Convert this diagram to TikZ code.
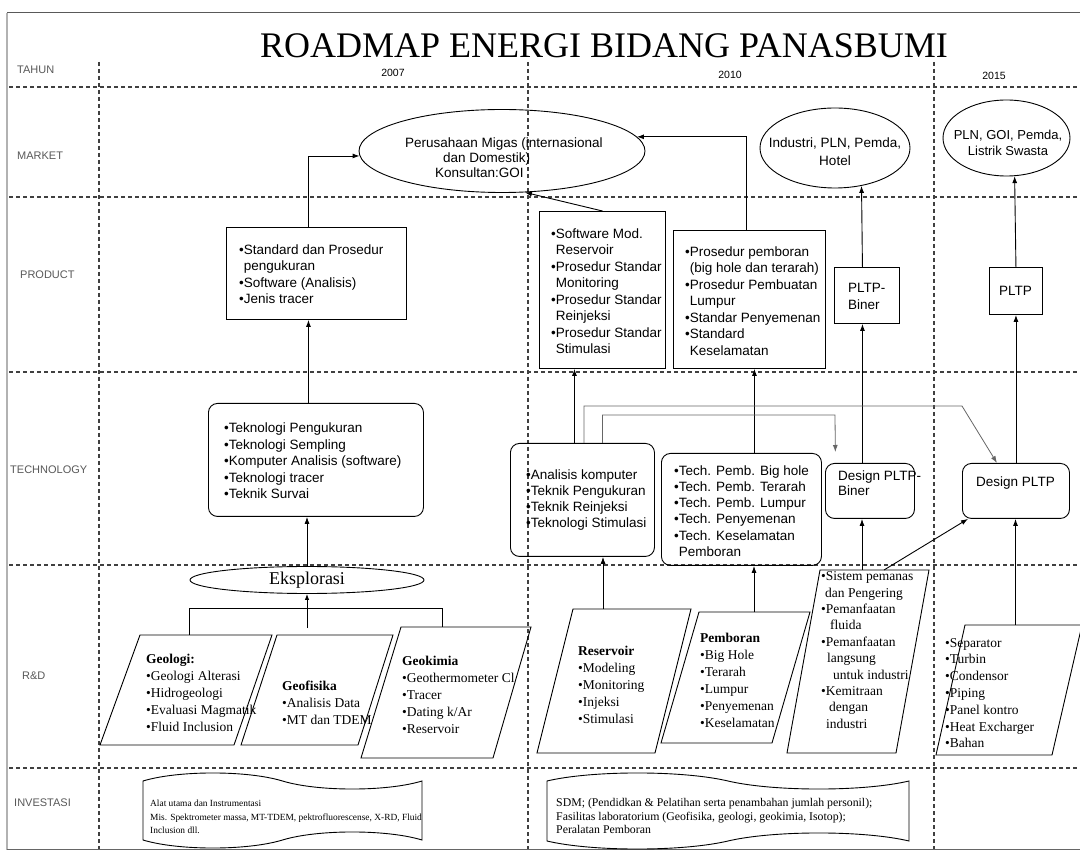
\documentclass[tikz,border=0pt]{standalone}
\usepackage{fontspec}
\setmainfont{Liberation Serif}
\setsansfont{Liberation Sans}
\usetikzlibrary{arrows.meta,shapes.geometric}
\begin{document}
\begin{tikzpicture}[x=1pt,y=-1pt,
  grid/.style={dash pattern=on 4pt off 3pt,line width=1.1pt,black!75},
  box/.style={draw,line width=0.9pt,inner sep=0pt,anchor=north west},
  rbox/.style={box,rounded corners=9pt},
  stx/.style={font=\sffamily\fontsize{13.5}{16.5}\selectfont,align=left,inner sep=0pt,anchor=west},
  rtx/.style={font=\rmfamily\fontsize{13.5}{17}\selectfont,align=left,inner sep=0pt,anchor=west},
  ell/.style={draw,ellipse,line width=0.9pt,inner sep=0pt},
  etx/.style={font=\sffamily\fontsize{13.5}{17}\selectfont,align=center,inner sep=0pt},
  lab/.style={font=\sffamily\fontsize{11}{13}\selectfont,text=black!65,anchor=west,inner sep=0pt},
  yr/.style={font=\sffamily\fontsize{10.5}{12}\selectfont,inner sep=0pt},
  arr/.style={line width=0.9pt,-{Latex[length=7pt,width=5pt]}},
  garr/.style={line width=0.8pt,black!60,-{Latex[length=7pt,width=5pt]}},
  conn/.style={line width=0.9pt},
  pgram/.style={draw,line width=0.9pt},
  doc/.style={draw,line width=0.9pt},
]
\useasboundingbox (0,0) rectangle (1080,858);
\fill[white] (0,0) rectangle (1080,858);

% frame
\draw[black!65,line width=1pt] (7,13) -- (1080,13);
\draw[black!30,line width=1.5pt] (7,13) -- (7,850);
\draw[black!60,line width=1pt] (7,849) -- (1080,849);

% grid
\foreach \yy in {87,197,372,565,768} \draw[grid] (9,\yy) -- (1080,\yy);
\foreach \xx in {99,528,934} \draw[grid] (\xx,62) -- (\xx,849);

% title
\node[font=\rmfamily\fontsize{36}{40}\selectfont,anchor=base,inner sep=0pt] (title) at (604,58) {ROADMAP ENERGI BIDANG PANASBUMI};

% row labels
\node[lab] (lTahun) at (17,70) {TAHUN};
\node[lab] (lMarket) at (17,156) {MARKET};
\node[lab] (lProduct) at (20,275) {PRODUCT};
\node[lab] (lTech) at (10,470) {TECHNOLOGY};
\node[lab] (lRD) at (22,676) {R\&D};
\node[lab] (lInv) at (14,803) {INVESTASI};

% years
\node[yr] (y2007) at (393,73) {2007};
\node[yr] (y2010) at (730,75) {2010};
\node[yr] (y2015) at (994,76) {2015};

% market
\node[ell,minimum width=286pt,minimum height=83pt] (E1) at (502,151) {};
\node[stx,font=\sffamily\fontsize{13.5}{15}\selectfont] (E1t) at (405,158) {Perusahaan Migas (internasional\\\hspace*{38pt}dan Domestik)\\\hspace*{30pt}Konsultan:GOI};
\node[ell,minimum width=150pt,minimum height=80pt] (E2) at (835,148) {};
\node[etx,font=\sffamily\fontsize{13.5}{18}\selectfont] (E2t) at (835,152) {Industri, PLN, Pemda,\\Hotel};
\node[ell,minimum width=127pt,minimum height=76pt] (E3) at (1006.5,138) {};
\node[etx,font=\sffamily\fontsize{13}{16}\selectfont] (E3t) at (1008,143) {PLN, GOI, Pemda,\\Listrik Swasta};

% product
\node[box,minimum width=180pt,minimum height=92pt] (P1) at (226,227) {};
\node[stx] (P1t) at (239,274) {•Standard dan Prosedur\\\phantom{•}pengukuran\\•Software (Analisis)\\•Jenis tracer};
\node[box,minimum width=126pt,minimum height=157pt] (P2) at (539,211) {};
\node[stx] (P2t) at (551,291) {•Software Mod.\\\phantom{•}Reservoir\\•Prosedur Standar\\\phantom{•}Monitoring\\•Prosedur Standar\\\phantom{•}Reinjeksi\\•Prosedur Standar\\\phantom{•}Stimulasi};
\node[box,minimum width=152pt,minimum height=138pt] (P3) at (673,230) {};
\node[stx] (P3t) at (685,301) {•Prosedur pemboran\\\phantom{•}(big hole dan terarah)\\•Prosedur Pembuatan\\\phantom{•}Lumpur\\•Standar Penyemenan\\•Standard\\\phantom{•}Keselamatan};
\node[box,minimum width=65pt,minimum height=56pt] (P4) at (834,267) {};
\node[stx,font=\sffamily\fontsize{13.5}{17}\selectfont] (P4t) at (848,296) {PLTP-\\Biner};
\node[box,minimum width=53pt,minimum height=47pt] (P5) at (989,267) {};
\node[stx,anchor=center] (P5t) at (1015.5,291) {PLTP};

% technology
\node[rbox,minimum width=215pt,minimum height=113pt] (T1) at (208,403) {};
\node[stx] (T1t) at (224,461) {•Teknologi Pengukuran\\•Teknologi Sempling\\•Komputer Analisis (software)\\•Teknologi tracer\\•Teknik Survai};
\node[rbox,minimum width=144pt,minimum height=113pt] (T2) at (510,443) {};
\node[stx,font=\sffamily\fontsize{13.5}{16}\selectfont] (T2t) at (526,500) {•Analisis komputer\\•Teknik Pengukuran\\•Teknik Reinjeksi\\•Teknologi Stimulasi};
\node[rbox,minimum width=160pt,minimum height=112pt] (T3) at (661,453) {};
\node[stx,font=\sffamily\fontsize{13.5}{16.3}\selectfont] (T3t) at (674,511) {•Tech. Pemb. Big hole\\•Tech. Pemb. Terarah\\•Tech. Pemb. Lumpur\\•Tech. Penyemenan\\•Tech. Keselamatan\\\phantom{•}Pemboran};
\node[rbox,minimum width=89pt,minimum height=55pt] (T4) at (825,463) {};
\node[stx,font=\sffamily\fontsize{13.5}{15}\selectfont] (T4t) at (838,483) {Design PLTP-\\Biner};
\node[rbox,minimum width=107pt,minimum height=55pt] (T5) at (962,463) {};
\node[stx,anchor=center] (T5t) at (1015.5,483) {Design PLTP};

% R&D
\node[ell,minimum width=234pt,minimum height=27pt,font=\rmfamily\fontsize{18}{20}\selectfont] (Ek) at (307,580) {Eksplorasi};

\draw[pgram] (140,635) -- (272,635) -- (234,745) -- (100,745) -- cycle;
\node[rtx] (Geo) at (146,693) {\textbf{Geologi:}\\•Geologi Alterasi\\•Hidrogeologi\\•Evaluasi Magmatik\\•Fluid Inclusion};
\draw[pgram] (277,635) -- (393,635) -- (358,745) -- (241,745) -- cycle;
\node[rtx] (Gf) at (282,703) {\textbf{Geofisika}\\•Analisis Data\\•MT dan TDEM};
\draw[pgram] (401,627) -- (531,627) -- (493,758) -- (361,758) -- cycle;
\node[rtx] (Gk) at (402,695) {\textbf{Geokimia}\\•Geothermometer Cl\\•Tracer\\•Dating k/Ar\\•Reservoir};

\draw[pgram] (573,609) -- (691,609) -- (655,753) -- (537,753) -- cycle;
\node[rtx] (Res) at (578,685) {\textbf{Reservoir}\\•Modeling\\•Monitoring\\•Injeksi\\•Stimulasi};
\draw[pgram] (699,612) -- (810,612) -- (772,743) -- (661,743) -- cycle;
\node[rtx] (Pem) at (700,680) {\textbf{Pemboran}\\•Big Hole\\•Terarah\\•Lumpur\\•Penyemenan\\•Keselamatan};
\draw[pgram] (820,570) -- (929,570) -- (896,753) -- (787,753) -- cycle;
\node[rtx,font=\rmfamily\fontsize{13.5}{16.4}\selectfont] (Sis) at (821,650) {•Sistem pemanas\\\hspace*{4pt}dan Pengering\\•Pemanfaatan\\\hspace*{9pt}fluida\\•Pemanfaatan\\\hspace*{6pt}langsung\\\hspace*{12pt}untuk industri\\•Kemitraan\\\hspace*{8pt}dengan\\\hspace*{5pt}industri};
\draw[pgram] (965,625) -- (1082,625) -- (1052,755) -- (936,755) -- cycle;
\node[rtx,font=\rmfamily\fontsize{13.5}{16.8}\selectfont] (Komp) at (945,693) {•Separator\\•Turbin\\•Condensor\\•Piping\\•Panel kontro\\•Heat Excharger\\•Bahan};

% investasi
\draw[doc] (143,781) .. controls (178,770.3) and (247.5,770.3) .. (282.5,781)
  .. controls (317.5,791.7) and (387,791.7) .. (422,781) -- (422,840)
  .. controls (387,829.3) and (317.5,829.3) .. (282.5,840)
  .. controls (247.5,850.7) and (178,850.7) .. (143,840) -- cycle;
\node[rtx,font=\rmfamily\fontsize{9.4}{13.3}\selectfont] (Inv1) at (150,817) {Alat utama dan Instrumentasi\\Mis. Spektrometer massa, MT-TDEM, pektrofluorescense, X-RD, Fluid\\Inclusion dll.};
\draw[doc] (547,781) .. controls (592,770.3) and (682.5,770.3) .. (728,781)
  .. controls (773.5,791.7) and (864,791.7) .. (909,781) -- (909,841)
  .. controls (864,830.3) and (773.5,830.3) .. (728,841)
  .. controls (682.5,851.7) and (592,851.7) .. (547,841) -- cycle;
\node[rtx,font=\rmfamily\fontsize{11.8}{13.5}\selectfont] (Inv2) at (556,816) {SDM; (Pendidkan \& Pelatihan serta penambahan jumlah personil);\\Fasilitas laboratorium (Geofisika, geologi, geokimia, Isotop);\\Peralatan Pemboran};

% connector coordinates
\coordinate (geoT) at (189,635);
\coordinate (gfT) at (307,628);
\coordinate (gkT) at (442,627);
\coordinate (brk) at (307,608);
\coordinate (resT) at (603,609);
\coordinate (pemT) at (754,612);
\coordinate (sisT) at (862,570);
\coordinate (sisT2) at (884,570);
\coordinate (kompT) at (1015.5,625);
\coordinate (c1) at (962,406);
\coordinate (c2) at (835,415);

% connectors: product -> market
\draw[arr] ([xshift=-8pt]P1.north) |- (E1.182.4);
\draw[arr] (P2.north) -- (E1.299.3);
\draw[arr] ([xshift=-3.5pt]P3.north) |- (E1.6.42);
\draw[arr] ([xshift=-4.5pt]P4.north) -- (E2.305.9);
\draw[arr] (P5.north) -- (E3.282.7);

% technology -> product
\draw[arr] ([xshift=-7.5pt]T1.north) -- ([xshift=-7.5pt]T1.north |- P1.south);
\draw[arr] ([xshift=-8pt]T2.north) -- ([xshift=-8pt]T2.north |- P2.south);
\draw[arr] ([xshift=13pt]T3.north) -- ([xshift=13pt]T3.north |- P3.south);
\draw[arr] ([xshift=-7.5pt]T4.north) -- ([xshift=-7.5pt]T4.north |- P4.south);
\draw[arr] (T5.north) -- (T5.north |- P5.south);
\draw[garr] ([xshift=1.5pt]T2.north) |- (c1) -- ([xshift=-19pt]T5.north);
\draw[garr,shorten >=11pt] ([xshift=20pt]T2.north) |- (c2) -- ([xshift=-34.5pt]T4.north);

% R&D -> technology
\draw[arr] (Ek.north) -- (Ek.north |- T1.south);
\draw[conn] (geoT) |- (brk -| gkT) -- (gkT);
\draw[conn] (gfT) -- (brk);
\draw[line width=0.9pt,-{Latex[length=6pt,width=4.5pt]}] (brk) -- (Ek.south);
\draw[arr] (resT) -- (resT |- T2.south);
\draw[arr] (pemT) -- (pemT |- T3.south);
\draw[arr] (sisT) -- (sisT |- T4.south);
\draw[arr] (sisT2) -- ([xshift=6pt]T5.south west);
\draw[arr] (kompT) -- (kompT |- T5.south);
\end{tikzpicture}
\end{document}
